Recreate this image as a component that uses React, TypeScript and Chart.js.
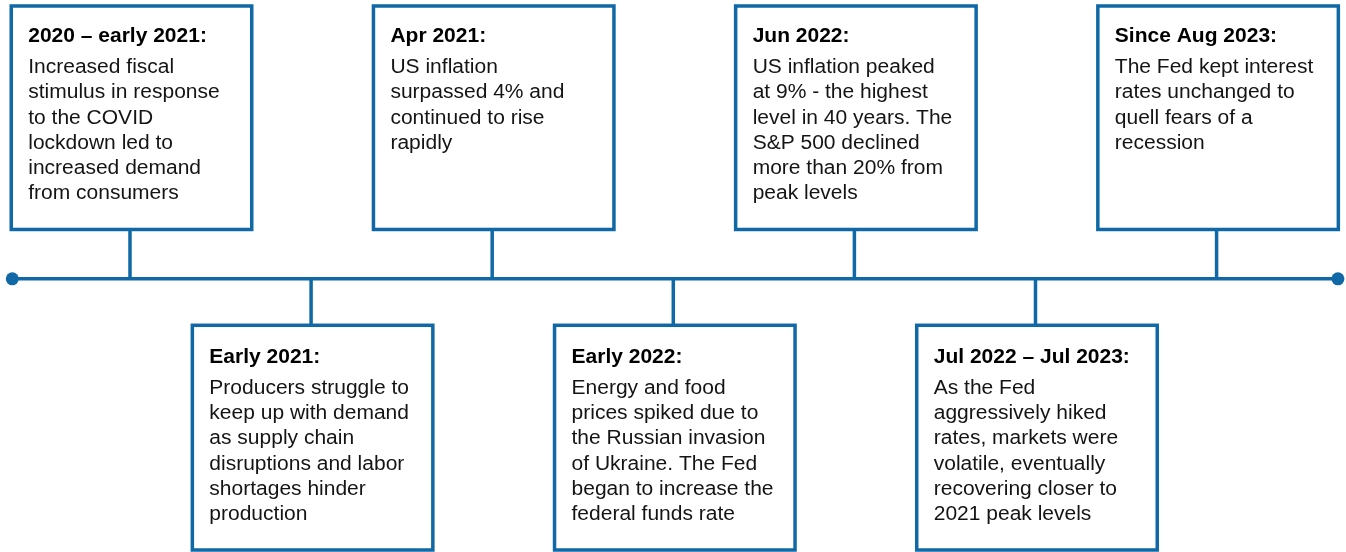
import React, { useEffect, useRef } from "react";
import { Chart, registerables } from "chart.js";

Chart.register(...registerables);

// ---- Data ----
const eventPositions: number[] = [0, 1, 2, 3, 4, 5, 6];
const eventTitles: string[] = [
  "2020 – early 2021:",
  "Early 2021:",
  "Apr 2021:",
  "Early 2022:",
  "Jun 2022:",
  "Jul 2022 – Jul 2023:",
  "Since Aug 2023:",
];
const eventSides: string[] = ["top", "bottom", "top", "bottom", "top", "bottom", "top"];
const eventText: string[][] = [
  ["Increased fiscal", "stimulus in response", "to the COVID", "lockdown led to", "increased demand", "from consumers"],
  ["Producers struggle to", "keep up with demand", "as supply chain", "disruptions and labor", "shortages hinder", "production"],
  ["US inflation", "surpassed 4% and", "continued to rise", "rapidly"],
  ["Energy and food", "prices spiked due to", "the Russian invasion", "of Ukraine. The Fed", "began to increase the", "federal funds rate"],
  ["US inflation peaked", "at 9% - the highest", "level in 40 years. The", "S&P 500 declined", "more than 20% from", "peak levels"],
  ["As the Fed", "aggressively hiked", "rates, markets were", "volatile, eventually", "recovering closer to", "2021 peak levels"],
  ["The Fed kept interest", "rates unchanged to", "quell fears of a", "recession"],
];
const timelineStart = -0.65;
const timelineEnd = 6.67;

const BLUE = "#1069a6";
const TEXT = "#141414";

const boxesPlugin = {
  id: "timelineBoxes",
  afterDatasetsDraw(chart: any) {
    const ctx = chart.ctx as CanvasRenderingContext2D;
    const xs = chart.scales.x;
    const ys = chart.scales.y;
    const ty = ys.getPixelForValue(0);
    const boxW = 240.5;
    ctx.save();
    eventPositions.forEach((pos, i) => {
      const cx = xs.getPixelForValue(pos);
      const top = eventSides[i] === "top";
      const bTop = top ? ty - 272.8 : ty + 46.5;
      const bBot = top ? ty - 49.3 : ty + 271.2;
      const left = cx + 1.5 - boxW / 2;
      // connector
      ctx.strokeStyle = BLUE;
      ctx.lineWidth = 3.5;
      ctx.beginPath();
      ctx.moveTo(cx, ty);
      ctx.lineTo(cx, top ? bBot : bTop);
      ctx.stroke();
      // box
      ctx.fillStyle = "#ffffff";
      ctx.fillRect(left, bTop, boxW, bBot - bTop);
      ctx.strokeRect(left, bTop, boxW, bBot - bTop);
      // text
      const tx = left + 17;
      const titleY = bTop + (top ? 36 : 37.5);
      ctx.fillStyle = "#000000";
      ctx.textBaseline = "alphabetic";
      ctx.textAlign = "left";
      ctx.font = 'bold 20px "Liberation Sans", Arial, sans-serif';
      ctx.save();
      ctx.translate(tx, titleY);
      ctx.scale(1.05, 1);
      ctx.fillText(eventTitles[i], 0, 0);
      ctx.restore();
      ctx.fillStyle = TEXT;
      ctx.font = '20px "Liberation Sans", Arial, sans-serif';
      eventText[i].forEach((line, j) => {
        ctx.save();
        ctx.translate(tx, titleY + 31 + j * 25.3);
        ctx.scale(1.05, 1);
        ctx.fillText(line, 0, 0);
        ctx.restore();
      });
    });
    ctx.restore();
  },
};

export default function App() {
  const ref = useRef<HTMLCanvasElement | null>(null);
  useEffect(() => {
    if (!ref.current) return;
    const chart = new Chart(ref.current, {
      type: "line",
      data: {
        datasets: [
          {
            label: "Timeline",
            data: [
              { x: timelineStart, y: 0 },
              { x: timelineEnd, y: 0 },
            ],
            borderColor: BLUE,
            backgroundColor: BLUE,
            borderWidth: 3.5,
            pointRadius: 6.5,
            pointBorderWidth: 0,
            pointBackgroundColor: BLUE,
            pointHoverRadius: 6.5,
            clip: false,
          },
        ],
      },
      options: {
        animation: false,
        responsive: false,
        devicePixelRatio: 1,
        layout: { padding: 0, autoPadding: false },
        plugins: { legend: { display: false }, tooltip: { enabled: false } },
        events: [],
        scales: {
          x: { type: "linear", min: -0.7178, max: 6.7146, display: false },
          y: { type: "linear", min: -0.98, max: 1, display: false },
        },
      },
      plugins: [boxesPlugin],
    });
    return () => chart.destroy();
  }, []);
  return (
    <div style={{ position: "fixed", left: 0, top: 0, width: 1346, height: 552, background: "#fff" }}>
      <canvas ref={ref} width={1346} height={552} style={{ width: 1346, height: 552 }} />
    </div>
  );
}
